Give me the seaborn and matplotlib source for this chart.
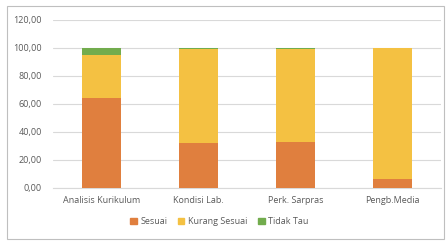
import matplotlib
matplotlib.use("Agg")
import matplotlib.pyplot as plt
from matplotlib.patches import Patch, Rectangle
import numpy as np
import pandas as pd
import seaborn as sns

categories = ["Analisis Kurikulum", "Kondisi Lab.", "Perk. Sarpras", "Pengb.Media"]
sesuai = [64.3, 31.7, 32.6, 6.2]
kurang_sesuai = [30.5, 67.3, 66.4, 93.8]
tidak_tau = [5.2, 1.0, 1.0, 0.0]
series_names = ["Sesuai", "Kurang Sesuai", "Tidak Tau"]
colors = ["#E07F3E", "#F4C142", "#72AC4D"]
yticks = [0, 20, 40, 60, 80, 100, 120]

sns.set_style("white")
plt.rcParams["font.family"] = ["Open Sans", "DejaVu Sans"]

df = pd.DataFrame({"cat": categories, "Sesuai": sesuai,
                   "Kurang Sesuai": kurang_sesuai, "Tidak Tau": tidak_tau})
# cumulative tops for stacking
cum = df[series_names].cumsum(axis=1)

fig = plt.figure(figsize=(4.48, 2.41), dpi=100)
ax = fig.add_axes([0.118, 0.22, 0.866, 0.699])

# draw from top of stack down so lower segments cover upper ones
for name, col in reversed(list(zip(series_names, colors))):
    sns.barplot(x=df["cat"], y=cum[name], color=col, width=0.4,
                saturation=1, linewidth=0, edgecolor="none", ax=ax, zorder=3)

ax.set_ylim(0, 120)
ax.set_yticks(yticks)
ax.set_yticklabels([f"{v:.2f}".replace(".", ",") for v in yticks])
ax.set_xlabel("")
ax.set_ylabel("")
ax.grid(axis="y", color="#D9D9D9", linewidth=0.8, zorder=0)
for s in ["top", "right", "left"]:
    ax.spines[s].set_visible(False)
ax.spines["bottom"].set_color("#D9D9D9")
ax.tick_params(axis="both", length=0, labelsize=6.5, colors="#595959")
ax.tick_params(axis="x", pad=6)
ax.tick_params(axis="y", pad=8)

handles = [Patch(color=c, label=n) for n, c in zip(series_names, colors)]
fig.legend(handles=handles, loc="center", bbox_to_anchor=(0.49, 0.08),
           ncol=3, frameon=False, fontsize=6.5, handlelength=0.7,
           handleheight=0.7, columnspacing=1.2, handletextpad=0.4,
           labelcolor="#595959")

fig.patches.append(Rectangle((0.015, 0.01), 0.975, 0.965, transform=fig.transFigure,
                             fill=False, edgecolor="#BFBFBF", linewidth=0.8))

fig.savefig("out.png", dpi=100)
